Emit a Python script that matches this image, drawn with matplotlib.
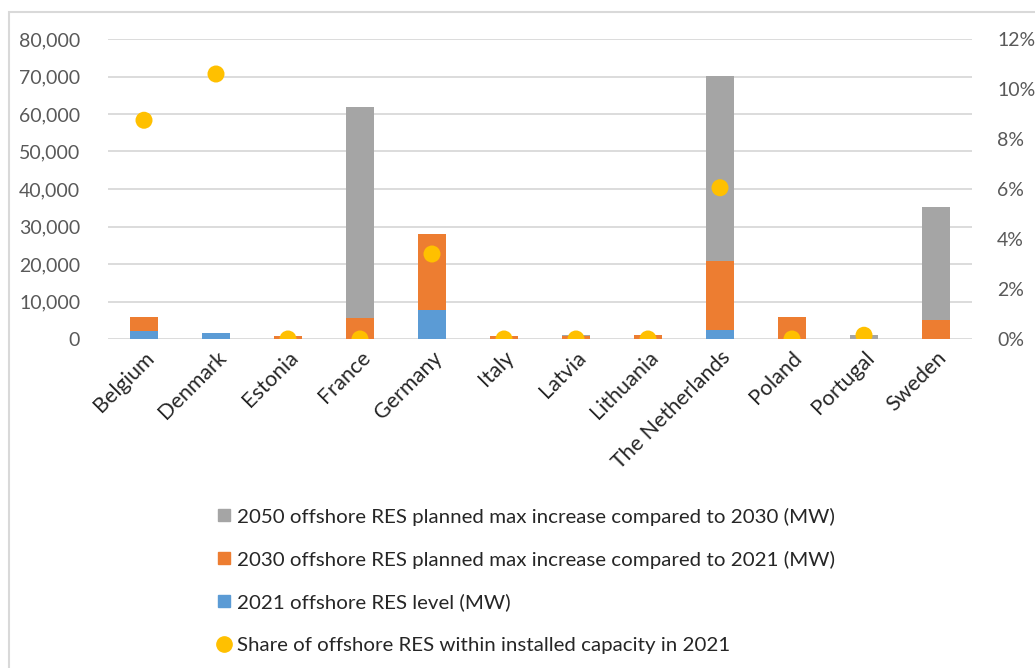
import matplotlib
matplotlib.use("Agg")
import matplotlib.pyplot as plt
import numpy as np
from matplotlib.lines import Line2D
from matplotlib.patches import Rectangle

countries = ["Belgium", "Denmark", "Estonia", "France", "Germany", "Italy", "Latvia",
             "Lithuania", "The Netherlands", "Poland", "Portugal", "Sweden"]
level_2021 = [2260, 1500, 0, 0, 7800, 0, 0, 0, 2500, 0, 0, 0]
increase_2030 = [3500, 0, 900, 5600, 20200, 900, 900, 1000, 18400, 6000, 0, 5000]
increase_2050 = [0, 0, 0, 56300, 0, 0, 300, 0, 49100, 0, 1000, 30200]
share_2021 = [8.75, 10.6, 0.0, 0.0, 3.4, 0.0, 0.0, 0.0, 6.05, 0.0, 0.15, np.nan]

labels = ["2050 offshore RES planned max increase compared to 2030 (MW)",
          "2030 offshore RES planned max increase compared to 2021 (MW)",
          "2021 offshore RES level (MW)",
          "Share of offshore RES within installed capacity in 2021"]

C_GRAY = "#A5A5A5"
C_ORANGE = "#ED7D31"
C_BLUE = "#5B9BD5"
C_YELLOW = "#FFC000"
FONT = "Lato"

W, H = 1035, 668
fig = plt.figure(figsize=(W / 100, H / 100), dpi=100)
ax = fig.add_axes([108 / W, 1 - 339 / H, (972 - 108) / W, (339 - 39) / H])

x = np.arange(len(countries))
b1 = np.array(level_2021, dtype=float)
b2 = np.array(increase_2030, dtype=float)
b3 = np.array(increase_2050, dtype=float)
bw = 0.4
ax.bar(x, b1, bw, color=C_BLUE, zorder=2)
ax.bar(x, b2, bw, bottom=b1, color=C_ORANGE, zorder=2)
ax.bar(x, b3, bw, bottom=b1 + b2, color=C_GRAY, zorder=2)

ax.set_xlim(-0.5, len(countries) - 0.5)
ax.set_ylim(0, 80000)
ax.set_yticks(np.arange(0, 80001, 10000))
ax.set_yticklabels([f"{v:,}" for v in range(0, 80001, 10000)])
ax.yaxis.grid(True, color="#D9D9D9", linewidth=1.3, zorder=0)
ax.set_axisbelow(True)
for s in ax.spines.values():
    s.set_visible(False)
ax.tick_params(axis="both", length=0)
ax.tick_params(axis="y", labelsize=14, labelcolor="#595959", pad=20)
ax.tick_params(axis="x", pad=6)
ax.set_xticks(x)
ax.set_xticklabels(countries, rotation=45, ha="right", va="top",
                   rotation_mode="anchor", fontsize=15.5, color="#262626", family=FONT)
for t in ax.get_yticklabels():
    t.set_family(FONT)

ax2 = ax.twinx()
ax2.set_ylim(0, 12)
ax2.set_yticks(np.arange(0, 13, 2))
ax2.set_yticklabels([f"{v}%" for v in range(0, 13, 2)])
for s in ax2.spines.values():
    s.set_visible(False)
ax2.tick_params(axis="y", length=0, labelsize=14, labelcolor="#595959", pad=18)
for t in ax2.get_yticklabels():
    t.set_family(FONT)
ax2.scatter(x, share_2021, s=150, color=C_YELLOW, zorder=3, edgecolors="none")

handles = [
    Line2D([], [], marker="s", linestyle="none", color=C_GRAY, markersize=9),
    Line2D([], [], marker="s", linestyle="none", color=C_ORANGE, markersize=9),
    Line2D([], [], marker="s", linestyle="none", color=C_BLUE, markersize=9),
    Line2D([], [], marker="o", linestyle="none", color=C_YELLOW, markersize=11),
]
fig.legend(handles, labels, loc="upper left", bbox_to_anchor=(194 / W, 1 - 489 / H),
           frameon=False, prop={"family": FONT, "size": 14.75}, labelspacing=1.22,
           handletextpad=0.1, handlelength=1.1, labelcolor="#262626")

fig.patches.append(Rectangle((9 / W, -0.1), 1.2, 1 - 12 / H + 0.1, transform=fig.transFigure,
                             fill=False, edgecolor="#D9D9D9", linewidth=1.5))

fig.savefig("out.png", dpi=100, facecolor="white")
